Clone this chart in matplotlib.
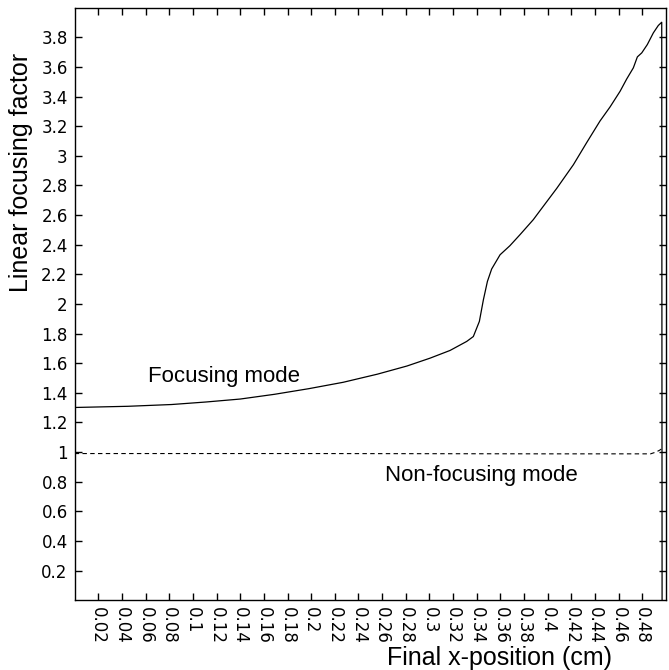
import matplotlib
matplotlib.use("Agg")
import matplotlib.pyplot as plt
from matplotlib.ticker import FuncFormatter

# focusing mode curve (x in cm, linear focusing factor)
focus_x = [0.0, 0.045, 0.082, 0.111, 0.14, 0.169, 0.198, 0.227, 0.256, 0.281,
           0.3005, 0.3174, 0.3315, 0.3371, 0.3422, 0.3456, 0.349, 0.3526,
           0.3597, 0.368, 0.3766, 0.3878, 0.3935, 0.4076, 0.4217, 0.433,
           0.4442, 0.4527, 0.4612, 0.4668, 0.4724, 0.4758, 0.4795, 0.4842,
           0.4893, 0.4935, 0.4964, 0.4967]
focus_y = [1.301, 1.309, 1.321, 1.338, 1.358, 1.39, 1.428, 1.471, 1.526, 1.581,
           1.634, 1.686, 1.747, 1.780, 1.882, 2.028, 2.152, 2.236,
           2.332, 2.393, 2.468, 2.569, 2.63, 2.78, 2.94, 3.09,
           3.235, 3.33, 3.436, 3.519, 3.594, 3.668, 3.695, 3.751,
           3.830, 3.880, 3.902, 0.0]

# non-focusing mode curve
nonfocus_x = [0.0, 0.1, 0.2, 0.3, 0.4, 0.487, 0.4915, 0.4945, 0.496]
nonfocus_y = [0.99, 0.99, 0.99, 0.989, 0.988, 0.988, 1.0, 1.012, 1.02]

xticks = [0.02, 0.04, 0.06, 0.08, 0.1, 0.12, 0.14, 0.16, 0.18, 0.2, 0.22, 0.24,
          0.26, 0.28, 0.3, 0.32, 0.34, 0.36, 0.38, 0.4, 0.42, 0.44, 0.46, 0.48]
yticks = [0.2, 0.4, 0.6, 0.8, 1, 1.2, 1.4, 1.6, 1.8, 2, 2.2, 2.4, 2.6, 2.8,
          3, 3.2, 3.4, 3.6, 3.8]

fig = plt.figure(figsize=(6.69, 6.70), dpi=100)
ax = fig.add_axes([0.1116, 0.1042, 0.8839, 0.8843])

ax.plot(focus_x, focus_y, color="black", lw=0.9)
ax.plot(nonfocus_x, nonfocus_y, color="black", lw=0.8, linestyle=(0, (4, 3)))

ax.set_xlim(0, 0.5)
ax.set_ylim(0, 4)
ax.set_xticks(xticks)
ax.set_yticks(yticks)
fmt = FuncFormatter(lambda v, p: "%g" % round(v, 3))
ax.xaxis.set_major_formatter(fmt)
ax.yaxis.set_major_formatter(fmt)

ax.tick_params(direction="in", length=5, width=1, top=True, right=True,
               labelsize=12, pad=5)
for lab in ax.get_xticklabels():
    lab.set_rotation(-90)
    lab.set_va("top")
    lab.set_ha("center")

for sp in ax.spines.values():
    sp.set_linewidth(1.0)

ax.set_xlabel("Final x-position (cm)", fontsize=18, family="Liberation Sans")
ax.xaxis.set_label_coords(0.719, -0.078)
ax.set_ylabel("Linear focusing factor", fontsize=18, family="Liberation Sans")
ax.yaxis.set_label_coords(-0.07, 0.722)

ax.text(0.0618, 1.51, "Focusing mode", fontsize=16, family="Liberation Sans",
        va="center", ha="left")
ax.text(0.2624, 0.839, "Non-focusing mode", fontsize=16, family="Liberation Sans",
        va="center", ha="left")

fig.savefig("out.png", dpi=100)
